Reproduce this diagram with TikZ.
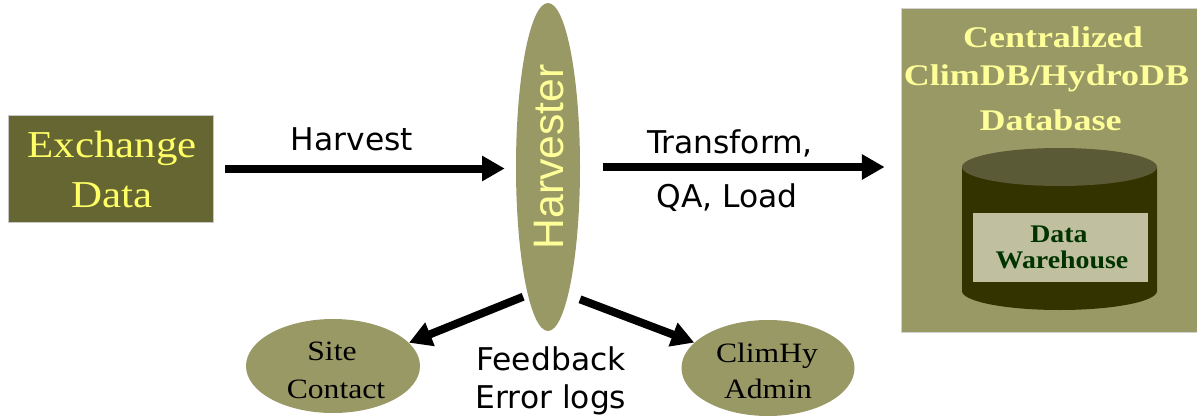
\documentclass[tikz,border=0pt]{standalone}
\usepackage{fontspec}
\setmainfont{Liberation Serif}
\newfontfamily\sansA{DejaVu Sans}
\newfontfamily\arialA{Liberation Sans}
\newfontfamily\serifA[FakeStretch=1.13]{Liberation Serif}
\newfontfamily\serifB[FakeStretch=1.2]{Liberation Serif}
\newfontfamily\serifC[FakeStretch=1.1]{Liberation Serif}
\usetikzlibrary{arrows.meta,shapes.geometric}
\definecolor{exfill}{HTML}{666633}
\definecolor{olive}{HTML}{999966}
\definecolor{ytextA}{HTML}{FFFF66}
\definecolor{ytextB}{HTML}{FFFF99}
\definecolor{cyltop}{HTML}{5A5A36}
\definecolor{cylbody}{HTML}{333300}
\definecolor{dwfill}{HTML}{C0C0A0}
\definecolor{dwtext}{HTML}{003300}
\begin{document}
\begin{tikzpicture}[x=0.75pt,y=-0.75pt,
  arr/.style={line width=6pt,-{Triangle[length=17pt,width=18pt]}},
  lbl/.style={anchor=base,inner sep=0pt,font=\sansA\fontsize{23.5pt}{26pt}\selectfont},
  ovalnode/.style={ellipse,fill=olive,inner sep=0pt},
  sertext/.style={anchor=base,inner sep=0pt,font=\serifA\fontsize{21pt}{24pt}\selectfont},
  ttl/.style={anchor=base,inner sep=0pt,text=ytextB,font=\serifB\bfseries\fontsize{22.5pt}{25pt}\selectfont},
  dwt/.style={anchor=base,inner sep=0pt,text=dwtext,font=\serifC\bfseries\fontsize{19pt}{21pt}\selectfont},
  ext/.style={anchor=base,inner sep=0pt,text=ytextA,font=\serifA\fontsize{28.5pt}{31pt}\selectfont}]
\useasboundingbox (0,0) rectangle (1197,418);
\fill[white] (0,0) rectangle (1197,418);
% shapes
\node[rectangle,fill=exfill,draw=gray!45,line width=0.6pt,minimum width=153.75pt,minimum height=80.25pt,inner sep=0pt] (ex) at (110.5,168.5) {};
\node[ovalnode,minimum width=48pt,minimum height=246pt] (harv) at (548,167) {};
\node[rectangle,fill=olive,draw=gray!35,line width=0.6pt,minimum width=222pt,minimum height=243pt,inner sep=0pt] (cdb) at (1049,170) {};
\node[ovalnode,minimum width=130.5pt,minimum height=70.5pt] (site) at (333,366) {};
\node[ovalnode,minimum width=129.75pt,minimum height=72pt] (admin) at (768,368) {};
% cylinder
\fill[cylbody] (962,167) -- (962,291) arc[start angle=180,end angle=360,x radius=73.125pt,y radius=14.25pt] -- (1157,167) -- cycle;
\fill[cyltop] (1059.5,167) ellipse[x radius=73.125pt,y radius=14.25pt];
\node[rectangle,fill=dwfill,minimum width=131.25pt,minimum height=51.75pt,inner sep=0pt] (dw) at (1060.5,247.5) {};
% texts
\node[ext] (t1) at (112,157) {Exchange};
\node[ext] (t2) at (112,207) {Data};
\node[rotate=90,inner sep=0pt,text=ytextB,font=\arialA\fontsize{32pt}{34pt}\selectfont] (t3) at (549,157) {Harvester};
\node[lbl] (t4) at (352,150) {Harvest};
\node[lbl] (t5) at (730,153) {Transform,};
\node[lbl] (t6) at (727,207) {QA, Load};
\node[ttl] (t7) at (1053,47) {Centralized};
\node[ttl] (t8) at (1046.5,85) {ClimDB/HydroDB};
\node[ttl] (t9) at (1050.5,130) {Database};
\node[dwt] (t10) at (1059,242) {Data};
\node[dwt] (t11) at (1062,268) {Warehouse};
\node[sertext] (t12) at (332,360) {Site};
\node[sertext] (t13) at (336,398) {Contact};
\node[sertext] (t14) at (767,362) {ClimHy};
\node[sertext] (t15) at (768,398) {Admin};
\node[lbl] (t16) at (551,370) {Feedback};
\node[lbl] (t17) at (551,408) {Error logs};
% connectors
\draw[arr,shorten <=9pt,shorten >=8.25pt] (ex.east) -- (ex.east -| harv.west);
\draw[arr,shorten <=17.25pt,shorten >=12pt] (harv.east) -- (harv.east -| cdb.west);
\draw[arr,shorten <=3.75pt] (harv.261) -- (site.17);
\draw[arr,shorten <=9.4pt] (harv.279.5) -- (admin.161);
\end{tikzpicture}
\end{document}
